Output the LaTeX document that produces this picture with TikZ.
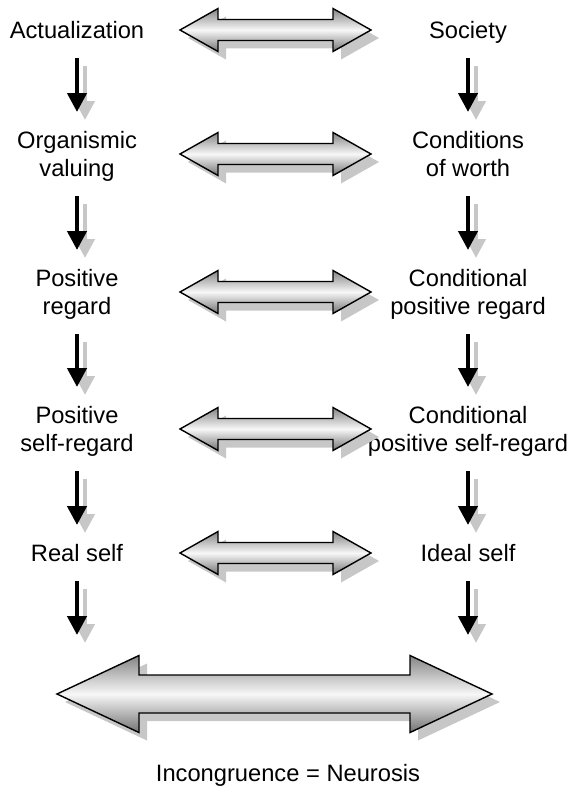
\documentclass[tikz,border=0pt]{standalone}
\usepackage{fontspec}
\setmainfont{Liberation Sans}
\usetikzlibrary{arrows.meta,calc}
\begin{document}
\begin{tikzpicture}[x=1pt,y=-1pt,
  lbl/.style={font=\fontsize{23.7}{28}\selectfont, align=center, inner sep=0pt},
  dshadow/.style={fill=black!22, draw=none},
  dbody/.style={draw=black, line width=1.4pt, line join=miter,
    top color=black!48, bottom color=black!55, middle color=black!3},
  down/.style={draw=black, line width=4.3pt, -{Triangle[width=19pt,length=19pt]}},
  downshade/.style={down, draw=black!22, transform canvas={xshift=8pt,yshift=-8pt}},
  % two-headed block arrow: half length, head length, head half width, shaft half width
  pics/twoway/.style n args={4}{code={
    \path[dshadow, shift={(8,8)}]
      (-#1,0) -- (-#1+#2,-#3) -- (-#1+#2,-#4) -- (#1-#2,-#4) -- (#1-#2,-#3)
      -- (#1,0) -- (#1-#2,#3) -- (#1-#2,#4) -- (-#1+#2,#4) -- (-#1+#2,#3) -- cycle;
    \path[dbody]
      (-#1,0) -- (-#1+#2,-#3) -- (-#1+#2,-#4) -- (#1-#2,-#4) -- (#1-#2,-#3)
      -- (#1,0) -- (#1-#2,#3) -- (#1-#2,#4) -- (-#1+#2,#4) -- (-#1+#2,#3) -- cycle;
  }}
]
\useasboundingbox (0,0) rectangle (574,792);

% left column
\node[lbl] (a1) at (77,33)  {Actualization\strut};
\node[lbl] (a2) at (77,157) {Organismic\strut\\valuing\strut};
\node[lbl] (a3) at (77,295) {Positive\strut\\regard\strut};
\node[lbl] (a4) at (77,432) {Positive\strut\\self-regard\strut};
\node[lbl] (a5) at (77,556) {Real self\strut};
\coordinate (bl) at (77,635);

% right column
\node[lbl] (s1) at (468,33)  {Society\strut};
\node[lbl] (s2) at (468,157) {Conditions\strut\\of worth\strut};
\node[lbl] (s3) at (468,295) {Conditional\strut\\positive regard\strut};
\node[lbl] (s4) at (468,432) {Conditional\strut\\positive self-regard\strut};
\node[lbl] (s5) at (468,556) {Ideal self\strut};
\coordinate (br) at (468,635);

\node[lbl] (res) at (288,776) {Incongruence = Neurosis\strut};

% shadows of the downward arrows
\foreach \u/\v/\s/\e in {a1/a2/25/45, a2/a3/39/45, a3/a4/39/45, a4/a5/39/31, a5/bl/25/0,
                         s1/s2/25/45, s2/s3/39/45, s3/s4/39/45, s4/s5/39/31, s5/br/25/0}
  \draw[downshade, shorten <=\s pt, shorten >=\e pt] (\u.center) -- (\v.center);
% downward arrows
\foreach \u/\v/\s/\e in {a1/a2/25/45, a2/a3/39/45, a3/a4/39/45, a4/a5/39/31, a5/bl/25/0,
                         s1/s2/25/45, s2/s3/39/45, s3/s4/39/45, s4/s5/39/31, s5/br/25/0}
  \draw[down, shorten <=\s pt, shorten >=\e pt] (\u.center) -- (\v.center);

% two-headed arrows between the columns
\foreach \y in {30,154,292,429,553}
  \pic at (275.5,\y) {twoway={95.5}{38}{21.5}{10.5}};
\pic at (274.5,694) {twoway={217.5}{82}{38.5}{19}};
\end{tikzpicture}
\end{document}
